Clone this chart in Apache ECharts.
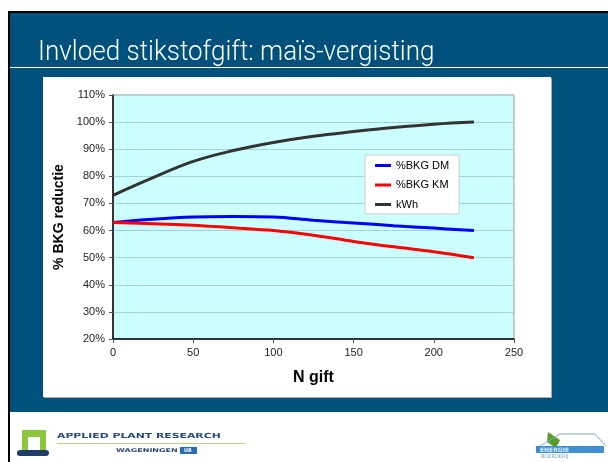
<!DOCTYPE html>
<html>
<head>
<meta charset="utf-8">
<title>Invloed stikstofgift</title>
<script src="https://cdn.jsdelivr.net/npm/echarts@6/dist/echarts.min.js"></script>
<style>
html, body { margin: 0; padding: 0; background: #fff; }
#main { width: 608px; height: 462px; }
</style>
</head>
<body>
<div id="main"></div>
<script>
// N gift (x) en reductie in %
var nGift = [0, 25, 50, 75, 100, 125, 150, 175, 200, 225];
var bkgDM = [63, 64.2, 65, 65.2, 65, 63.8, 62.8, 61.8, 60.9, 60];
var bkgKM = [63, 62.5, 62, 61, 60, 58.3, 56, 54, 52.2, 50];
var kWh = [73, 79.5, 85.5, 89.5, 92.5, 94.8, 96.5, 98, 99.2, 100];

var seriesNames = ['%BKG DM', '%BKG KM', 'kWh'];
var seriesColors = ['#0000ff', '#ff0000', '#333333'];

function pairs(values) {
	var out = [];
	for (var i = 0; i < nGift.length; i++) {
		out.push([nGift[i], values[i]]);
	}
	return out;
}

var chart = echarts.init(document.getElementById('main'));

var lines = [bkgDM, bkgKM, kWh].map(function(vals, i) {
	return {
		name: seriesNames[i],
		type: 'line',
		data: pairs(vals),
		smooth: 0.4,
		showSymbol: false,
		symbol: 'none',
		lineStyle: { color: seriesColors[i], width: 3 },
		itemStyle: { color: seriesColors[i] },
		z: 3
	};
});

var option = {
	animation: false,
	textStyle: { fontFamily: 'Liberation Sans, Arial, sans-serif' },
	graphic: [
		// dia achtergrond
		{ type: 'rect', z: -10, shape: { x: 8, y: 11, width: 600, height: 451 }, style: { fill: '#000' } },
		{ type: 'rect', z: -9, shape: { x: 10, y: 13, width: 598, height: 399 }, style: { fill: '#00507c' } },
		{ type: 'rect', z: -9, shape: { x: 10, y: 412, width: 598, height: 50 }, style: { fill: '#fff' } },
		{ type: 'rect', z: -8, shape: { x: 10, y: 67, width: 598, height: 1 }, style: { fill: '#fff' } },
		{ type: 'text', z: -7, x: 38, y: 39, scaleX: 0.93, style: { text: 'Invloed stikstofgift: maïs-vergisting', fill: '#fff', font: '300 28px Roboto, "Liberation Sans", sans-serif' } },
		// grafiekvlak
		{ type: 'rect', z: -8, shape: { x: 44, y: 78, width: 508, height: 320 }, style: { fill: '#a8a8a8' } },
		{ type: 'rect', z: -7, shape: { x: 43, y: 77, width: 508, height: 320 }, style: { fill: '#fff' } },
		// logo links
		{ type: 'rect', z: -7, shape: { x: 22, y: 430, width: 24, height: 22 }, style: { fill: '#8cc63f' } },
		{ type: 'rect', z: -6, shape: { x: 28, y: 437, width: 12, height: 15 }, style: { fill: '#fff' } },
		{ type: 'rect', z: -6, shape: { x: 17, y: 450, width: 32, height: 6, r: 3 }, style: { fill: '#1f3d6b' } },
		{ type: 'text', z: -6, x: 57, y: 433, scaleX: 1.55, style: { text: 'APPLIED PLANT RESEARCH', fill: '#2b4a78', font: 'bold 7px "DejaVu Sans", sans-serif' } },
		{ type: 'rect', z: -6, shape: { x: 57, y: 443, width: 188, height: 1 }, style: { fill: '#b7d58a' } },
		{ type: 'text', z: -6, x: 116, y: 448, scaleX: 1.6, style: { text: 'WAGENINGEN', fill: '#2b4a78', font: 'bold 5px "DejaVu Sans", sans-serif' } },
		{ type: 'rect', z: -6, shape: { x: 180, y: 447, width: 17, height: 7 }, style: { fill: '#2b6cb0' } },
		{ type: 'text', z: -5, x: 184, y: 448, style: { text: 'UR', fill: '#fff', font: 'bold 5px "DejaVu Sans", sans-serif' } },
		// logo rechts
		{ type: 'polygon', z: -6, shape: { points: [[548, 432], [560, 440], [556, 448], [547, 442]] }, style: { fill: '#5a9a2a' } },
		{ type: 'polyline', z: -6, shape: { points: [[540, 446], [560, 434], [595, 434], [606, 446]] }, style: { stroke: '#7fa7c9', lineWidth: 1, fill: null } },
		{ type: 'rect', z: -6, shape: { x: 536, y: 446, width: 68, height: 7 }, style: { fill: '#3f8fd0' } },
		{ type: 'text', z: -5, x: 540, y: 447, style: { text: 'ENERGIE', fill: '#dbeeff', font: 'bold 6px "DejaVu Sans", sans-serif' } },
		{ type: 'text', z: -5, x: 541, y: 454, style: { text: 'BOERDERIJ', fill: '#7fa7c9', font: '5px "DejaVu Sans", sans-serif' } }
	],
	grid: {
		left: 113,
		top: 95,
		width: 401,
		height: 244,
		show: true,
		backgroundColor: '#ccffff',
		borderColor: '#999999',
		borderWidth: 1
	},
	legend: {
		orient: 'vertical',
		left: 365,
		top: 155,
		data: seriesNames,
		icon: 'rect',
		itemWidth: 16,
		itemHeight: 3,
		itemGap: 8.5,
		padding: [5, 10, 4, 10],
		backgroundColor: '#fff',
		borderColor: '#cccccc',
		borderWidth: 1,
		borderRadius: 0,
		textStyle: { fontSize: 11, color: '#000' }
	},
	xAxis: {
		type: 'value',
		min: 0,
		max: 250,
		interval: 50,
		name: 'N gift',
		nameLocation: 'middle',
		nameGap: 31,
		nameTextStyle: { fontSize: 16, fontWeight: 'bold', color: '#000' },
		axisLine: { lineStyle: { color: '#000', width: 1.5 } },
		axisTick: { show: true, length: 4, lineStyle: { color: '#555' } },
		axisLabel: { fontSize: 11, color: '#222', margin: 8 },
		splitLine: { show: false }
	},
	yAxis: {
		type: 'value',
		min: 20,
		max: 110,
		interval: 10,
		name: '% BKG reductie',
		nameLocation: 'middle',
		nameGap: 47,
		nameTextStyle: { fontSize: 14, fontWeight: 'bold', color: '#000' },
		axisLine: { show: true, lineStyle: { color: '#000', width: 1.5 } },
		axisTick: { show: true, length: 4, lineStyle: { color: '#555' } },
		axisLabel: { fontSize: 11, color: '#222', margin: 8, formatter: '{value}%' },
		splitLine: { show: true, lineStyle: { color: '#a3d3d6', width: 1 } }
	},
	series: lines
};

chart.setOption(option);
</script>
</body>
</html>
